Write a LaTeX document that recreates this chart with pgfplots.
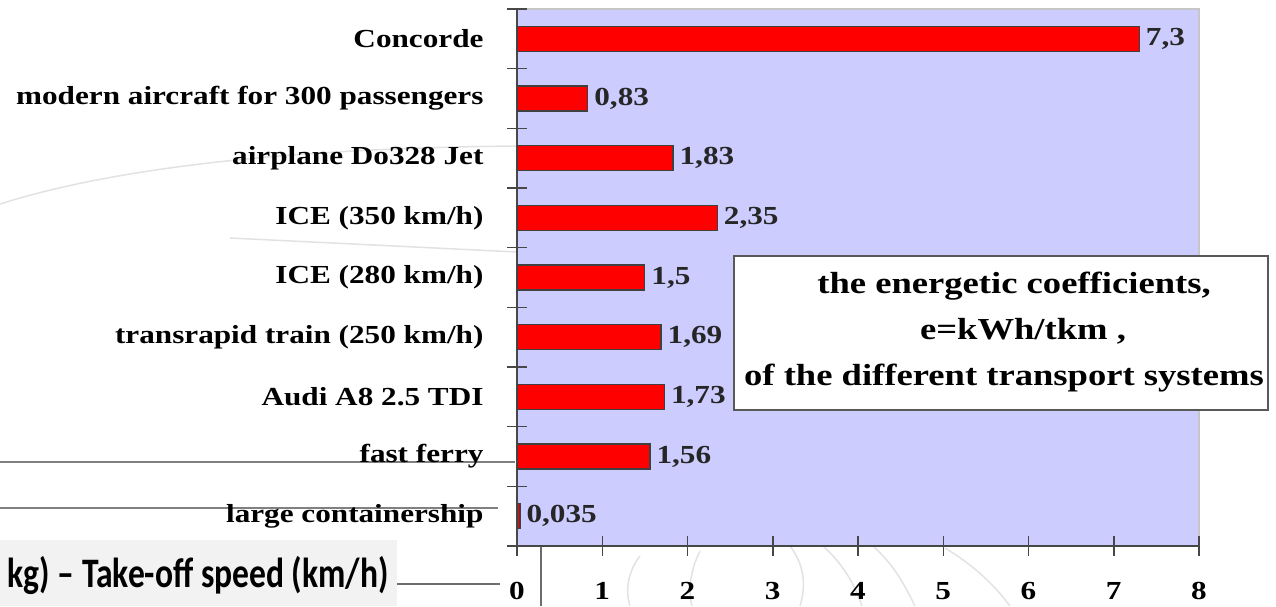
\documentclass[border=0pt]{standalone}
\usepackage{pgfplots}
\pgfplotsset{compat=1.18}
\usepackage{fontspec}
\setmainfont{Liberation Serif}[FakeStretch=1.2]
\newfontfamily\calibri{Carlito}[FakeStretch=0.8]
\definecolor{lavender}{HTML}{CCCCFF}
\definecolor{barred}{HTML}{FF0000}
\definecolor{axisgray}{HTML}{474747}
\definecolor{boxgray}{HTML}{F2F2F2}
\definecolor{faint}{HTML}{E2E2E2}

\begin{document}
\begin{tikzpicture}[x=1pt,y=1pt]
\useasboundingbox (0,0) rectangle (1276,606);

% leftovers of the slide behind the chart
\draw[faint, line width=1.5pt] (0,402) .. controls (120,440) and (300,458) .. (517,460);
\draw[faint, line width=1.5pt] (230,368) -- (517,354);
\draw[faint, line width=1.5pt] (790,60) .. controls (805,40) and (806,20) .. (800,0);
\draw[faint, line width=1.5pt] (823,60) .. controls (845,40) and (855,20) .. (862,0);
\draw[faint, line width=1.5pt] (873,60) .. controls (895,40) and (905,20) .. (915,0);
\draw[faint, line width=1.5pt] (945,58) .. controls (975,40) and (995,20) .. (1010,0);
\draw[faint, line width=1.5pt] (640,50) .. controls (628,35) and (625,15) .. (630,0);
\draw[faint, line width=1.5pt] (700,55) .. controls (690,35) and (688,15) .. (692,0);

\fill[boxgray] (0,0) rectangle (397,66);
\node[anchor=base east, inner sep=0pt, font={\calibri\bfseries\fontsize{42}{44}\selectfont}] at (389,19) {kg) – Take-off speed (km/h)};
\draw[axisgray!80, line width=1.2pt] (397,22) -- (500,22);
\draw[axisgray!80, line width=1.2pt] (541,0) -- (541,60);
\draw[gray, line width=1.5pt] (0,144) -- (515,144);
\draw[gray, line width=1.5pt] (0,98) -- (498,98);

\begin{axis}[
    at={(517pt,60pt)}, anchor=south west,
    scale only axis,
    width=682pt, height=537pt,
    xbar,
    bar width=25pt,
    xmin=0, xmax=8,
    ymin=-0.5, ymax=8.5,
    axis lines=left,
    axis line style={-, draw=axisgray, line width=1.5pt},
    axis background/.style={fill=lavender, draw=gray!45, line width=1.5pt},
    xtick={0,1,2,3,4,5,6,7,8},
    xticklabels={0,1,2,3,4,5,6,7,8},
    ytick={-0.5,0.5,1.5,2.5,3.5,4.5,5.5,6.5,7.5,8.5},
    y tick label as interval,
    yticklabels={
        large containership,
        fast ferry,
        Audi A8 2.5 TDI\hspace{4pt},
        transrapid train (250 km/h),
        ICE (280 km/h),
        ICE (350 km/h),
        airplane Do328 Jet\hspace{4pt},
        modern aircraft for 300 passengers\hspace{9pt},
        Concorde},
    tick align=center,
    major tick length=20pt,
    tick style={draw=axisgray, line width=1.5pt},
    tick label style={font={\bfseries\fontsize{26}{30}\selectfont}},
    yticklabel style={xshift=-20pt},
    xticklabel style={yshift=-23pt},
    nodes near coords,
    nodes near coords align={horizontal},
    every node near coord/.append style={anchor=west, font={\bfseries\fontsize{26}{30}\selectfont}, inner xsep=6pt, text=black!85},
]
\addplot[fill=barred, draw=black!75, line width=1.2pt, point meta=explicit symbolic] coordinates {
    (0.035,0) [0,035]
    (1.56,1) [1,56]
    (1.73,2) [1,73]
    (1.69,3) [1,69]
    (1.5,4) [1,5]
    (2.35,5) [2,35]
    (1.83,6) [1,83]
    (0.83,7) [0,83]
    (7.3,8) [7,3]
};
\end{axis}

% caption box over the plot
\draw[fill=white, draw=axisgray!90, line width=1.5pt] (734,196) rectangle (1268,350);
\begin{scope}[every node/.style={anchor=base, inner sep=0pt, font={\bfseries\fontsize{30.5}{36}\selectfont}}]
\node at (1014,313) {the energetic coefficients,};
\node at (1023,267) {e=kWh/tkm ,};
\node at (1004,221) {of the different transport systems};
\end{scope}
\end{tikzpicture}
\end{document}
